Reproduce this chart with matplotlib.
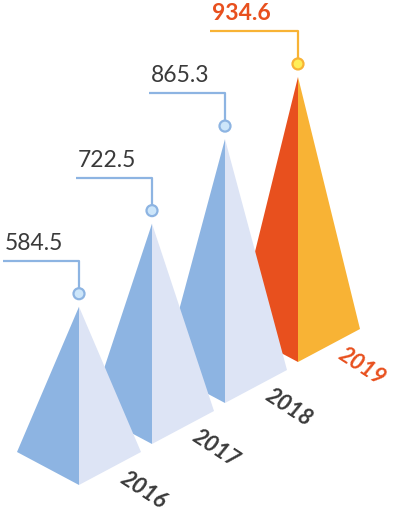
import numpy as np
import matplotlib.pyplot as plt
from matplotlib.patches import Polygon, Circle

years = ["2016", "2017", "2018", "2019"]
values = [584.5, 722.5, 865.3, 934.6]
labels = ["584.5", "722.5", "865.3", "934.6"]

# couleurs : face gauche, face droite
blue_faces = ("#8db4e2", "#dde4f5")
orange_faces = ("#e8501e", "#f8b335")

fig = plt.figure(figsize=(3.96, 5.12), dpi=100)
ax = fig.add_axes([0, 0, 1, 1])
ax.set_xlim(0, 396)
ax.set_ylim(512, 0)
ax.axis("off")

k = 0.305        # pixels par unité
half_w = 62      # demi-largeur de la base
depth = 33       # décalage vertical des coins

# du fond vers l'avant
for i in reversed(range(len(values))):
    last = i == len(values) - 1
    left_c, right_c = orange_faces if last else blue_faces
    line_c = "#f8b335" if last else "#8db4e2"
    dot_c = "#ffee58" if last else "#cde6fa"
    txt_c = "#e8501e" if last else "#3a3a3a"
    z = 10 - i

    cx = 79 + i * 73
    base = 485 - i * 41
    apex = base - values[i] * k

    ax.add_patch(Polygon([(cx, apex), (cx - half_w, base - depth), (cx, base)],
                         closed=True, fc=left_c, ec="none", zorder=z))
    ax.add_patch(Polygon([(cx, apex), (cx + half_w, base - depth), (cx, base)],
                         closed=True, fc=right_c, ec="none", zorder=z))

    # repère et valeur
    cy = apex - 13
    top = cy - 33
    x0 = cx - 76 - (12 if last else 0)
    ax.plot([cx, cx, x0], [cy - 6, top, top],
            color=line_c, lw=1.6, zorder=20, solid_capstyle="butt")
    ax.add_patch(Circle((cx, cy), 5.5, fc=dot_c, ec=line_c, lw=1.6, zorder=21))
    ax.text(x0 + 2, top - 7, labels[i], fontsize=16.5,
            color=txt_c, fontweight="bold" if last else "normal",
            ha="left", va="bottom", family="Lato", zorder=22)

    # année
    ax.text(cx + 64, base + 5, years[i], fontsize=16, rotation=-33,
            color=txt_c, fontweight="bold", fontstyle="italic",
            ha="center", va="center", family="Lato", zorder=22,
            rotation_mode="anchor")

fig.savefig("out.png", dpi=100)
